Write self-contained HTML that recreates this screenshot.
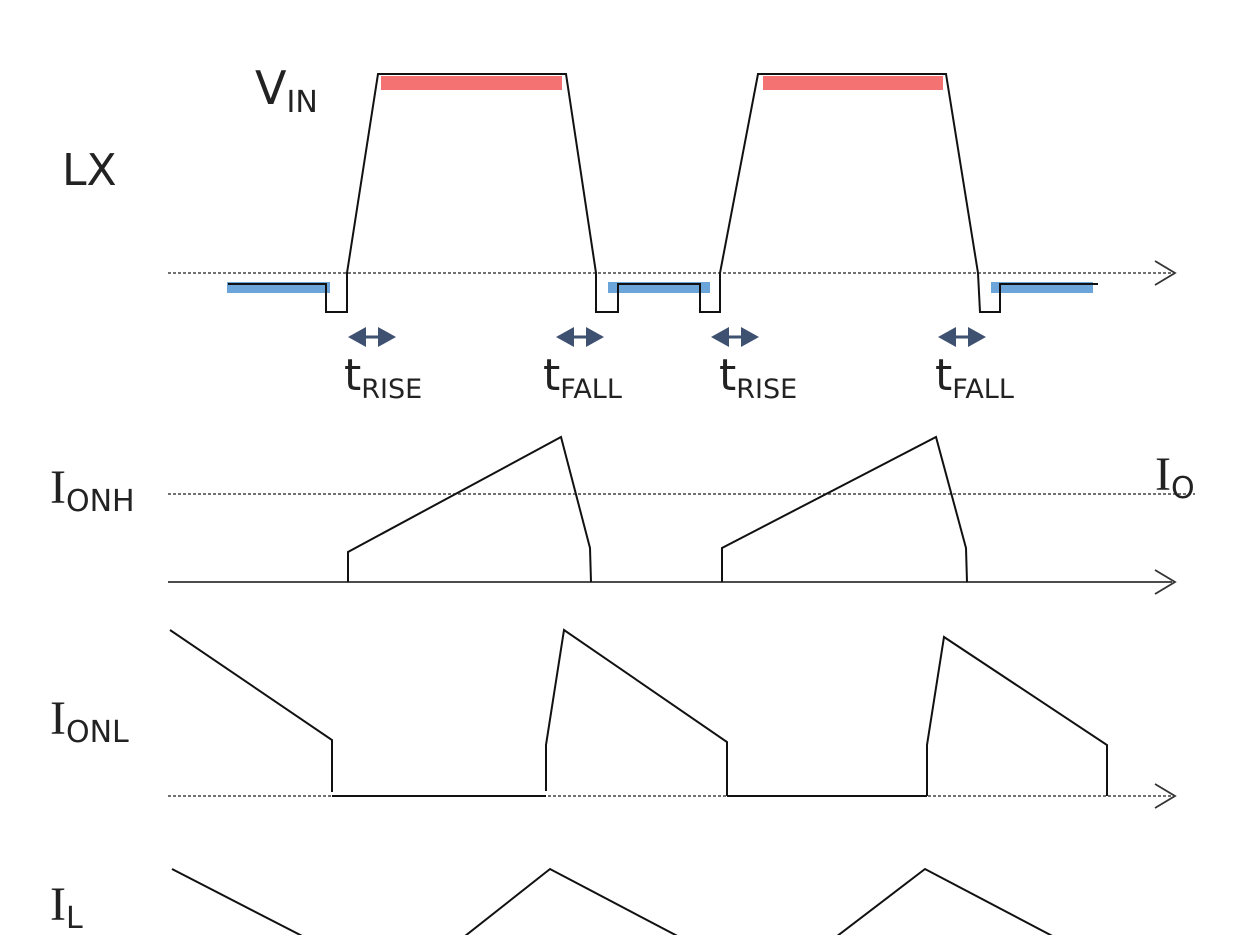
<!DOCTYPE html>
<html><head><style>
html,body{margin:0;padding:0;background:#fff;width:1250px;height:935px;overflow:hidden}
svg{display:block}
.s{font-family:"DejaVu Sans","Liberation Sans",sans-serif;fill:#222}
.r{font-family:"Liberation Serif",serif;fill:#222}
</style></head><body>
<svg width="1250" height="935" viewBox="0 0 1250 935" xmlns="http://www.w3.org/2000/svg">
<g fill="#fff"><rect width="1250" height="935"/></g>
<g stroke="#444" stroke-width="1.5" stroke-dasharray="3,2" fill="none">
<line x1="168" y1="273" x2="1172" y2="273"/>
<line x1="168" y1="494" x2="1195" y2="494"/>
<line x1="168" y1="796" x2="1172" y2="796"/>
</g>
<g stroke="#333" stroke-width="1.8" fill="none">
<polyline points="1155,261 1175,273 1155,285"/>
<polyline points="1155,570 1175,582 1155,594"/>
<polyline points="1155,784 1175,796 1155,808"/>
<line x1="168" y1="582" x2="1172" y2="582"/>
</g>
<g fill="#5b9bd5" opacity="0.9">
<rect x="227" y="282" width="103" height="11"/>
<rect x="608" y="282" width="102" height="11"/>
<rect x="991" y="282" width="102" height="11"/>
</g>
<g fill="#f47272">
<rect x="381" y="76" width="181" height="14"/>
<rect x="763" y="76" width="180" height="14"/>
</g>
<g stroke="#111" stroke-width="2" fill="none">
<polyline points="228,284 326,284 326,312 347,312 347,273 378,74 566,74 596,273 596,312 618,312 618,284 700,284 700,312 720,312 720,273 758,74 946,74 978,273 980,312 1000,312 1000,284 1098,284"/>
<polyline points="348,582 348,552 561,437 590,548 591,582"/>
<polyline points="722,582 722,548 936,437 966,548 967,582"/>
<polyline points="170,630 332,740 332,792"/>
<line x1="332" y1="796" x2="546" y2="796"/>
<polyline points="546,791 546,745 564,630 727,742 727,796"/>
<line x1="727" y1="796" x2="927" y2="796"/>
<polyline points="927,796 927,745 944,637 1107,745 1107,796"/>
<polyline points="172,869 310,940"/>
<polyline points="460,940 550,869 685,940"/>
<polyline points="832,940 925,869 1060,940"/>
</g>
<g fill="#3f5170">
<g transform="translate(372,337)"><polygon points="-24,0 -6,-10 -6,10"/><polygon points="24,0 6,-10 6,10"/><rect x="-8" y="-1.5" width="16" height="3"/></g>
<g transform="translate(580,337)"><polygon points="-24,0 -6,-10 -6,10"/><polygon points="24,0 6,-10 6,10"/><rect x="-8" y="-1.5" width="16" height="3"/></g>
<g transform="translate(735,337)"><polygon points="-24,0 -6,-10 -6,10"/><polygon points="24,0 6,-10 6,10"/><rect x="-8" y="-1.5" width="16" height="3"/></g>
<g transform="translate(962,337)"><polygon points="-24,0 -6,-10 -6,10"/><polygon points="24,0 6,-10 6,10"/><rect x="-8" y="-1.5" width="16" height="3"/></g>
</g>
<text class="s" x="62" y="185" font-size="44">LX</text>
<text class="s" x="255" y="104" font-size="46">V<tspan font-size="30" dy="8">IN</tspan></text>
<text class="s" x="344" y="390" font-size="44">t<tspan font-size="27" dy="8">RISE</tspan></text>
<text class="s" x="543" y="390" font-size="44">t<tspan font-size="27" dy="8">FALL</tspan></text>
<text class="s" x="719" y="390" font-size="44">t<tspan font-size="27" dy="8">RISE</tspan></text>
<text class="s" x="935" y="390" font-size="44">t<tspan font-size="27" dy="8">FALL</tspan></text>
<text class="r" x="50" y="503" font-size="48">I<tspan class="s" font-size="30" dy="8">ONH</tspan></text>
<text class="r" x="1155" y="490" font-size="48">I<tspan class="s" font-size="30" dy="8">O</tspan></text>
<text class="r" x="50" y="734" font-size="48">I<tspan class="s" font-size="30" dy="8">ONL</tspan></text>
<text class="r" x="50" y="920" font-size="48">I<tspan class="s" font-size="30" dy="8">L</tspan></text>
</svg>
</body></html>
